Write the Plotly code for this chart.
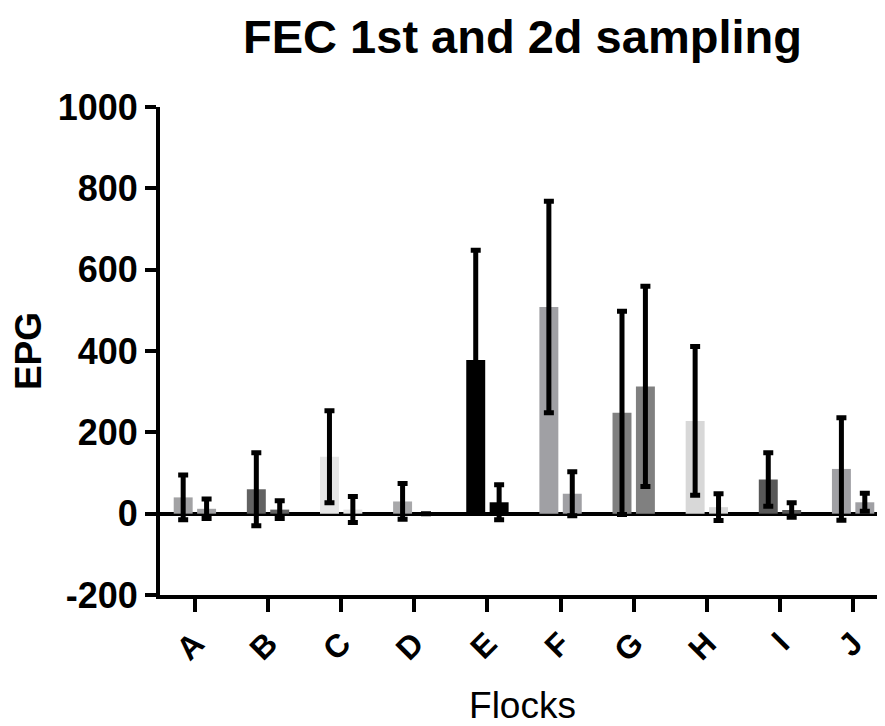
import plotly.graph_objects as go

flocks = ["A", "B", "C", "D", "E", "F", "G", "H", "I", "J"]
first_mean = [40, 60, 140, 30, 378, 508, 248, 228, 84, 110]
first_err = [55, 90, 113, 44, 270, 260, 250, 183, 66, 126]
second_mean = [12, 10, 10, 0, 28, 49, 313, 16, 9, 28]
second_err = [24, 22, 32, 0, 43, 54, 246, 33, 18, 22]
flock_colors = ["#a2a2a4", "#626262", "#e6e6e6", "#a8a8aa", "#000000",
                "#a0a0a4", "#808080", "#d8d8d8", "#585858", "#a0a0a4"]
y_ticks = [-200, 0, 200, 400, 600, 800, 1000]
y_tick_labels = ["-200", "0", "200", "400", "600", "800", "1000"]

FONT = "Liberation Sans, Arial, sans-serif"

fig = go.Figure()
for name, means, errs in [("1st sampling", first_mean, first_err),
                          ("2d sampling", second_mean, second_err)]:
    fig.add_trace(go.Bar(
        name=name, x=flocks, y=means,
        marker=dict(color=flock_colors, line=dict(width=0)),
        error_y=dict(type="data", array=errs, visible=True,
                     color="black", thickness=5, width=5),
    ))

# page body adds an 8px offset, so the figure is sized to the remaining window
fig.update_layout(
    width=877, height=718,
    margin=dict(l=152, r=0, t=99, b=131),
    paper_bgcolor="white", plot_bgcolor="white",
    barmode="group", bargap=0.36, bargroupgap=0.19,
    showlegend=False,
    font=dict(family=FONT, color="black"),
    title=dict(text="FEC 1st and 2d sampling", x=0.5, xref="paper",
               y=1 - 29 / 718, yref="container", yanchor="middle",
               xanchor="center",
               font=dict(size=47, weight="bold", family=FONT, color="black")),
)

fig.update_xaxes(
    range=[-0.477, 9.436], automargin=False,
    showline=True, linewidth=4, linecolor="black",
    ticks="outside", ticklen=13, tickwidth=4, tickcolor="black",
    tickangle=-45,
    tickfont=dict(size=32, weight="bold", family=FONT),
    title=dict(text="Flocks", font=dict(size=37, family=FONT), standoff=30),
    showgrid=False, zeroline=False,
)
fig.update_yaxes(
    range=[-200, 1000], tickvals=y_ticks, ticktext=y_tick_labels,
    automargin=False,
    showline=True, linewidth=4, linecolor="black",
    ticks="outside", ticklen=11, tickwidth=4, tickcolor="black",
    tickfont=dict(size=36, weight="bold", family=FONT),
    title=dict(text="EPG", font=dict(size=37, weight="bold", family=FONT),
               standoff=8),
    showgrid=False, zeroline=True, zerolinewidth=4, zerolinecolor="black",
)

fig.write_html("out.html")
